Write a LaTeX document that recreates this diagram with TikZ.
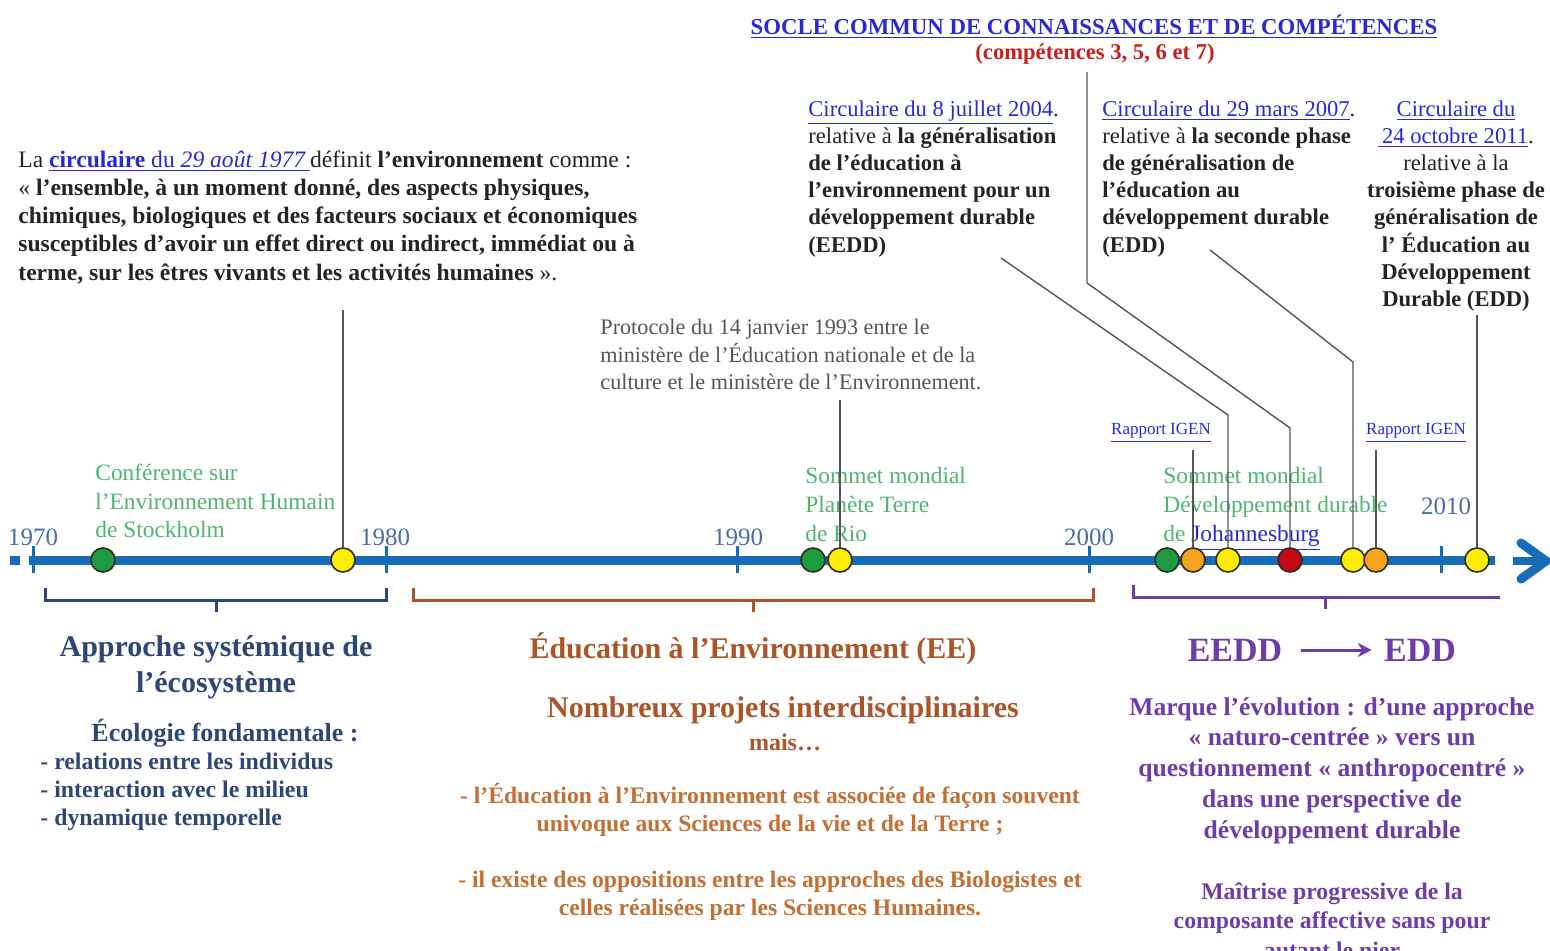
\documentclass[tikz,border=0pt]{standalone}
\usepackage{fontspec}
\setmainfont{Liberation Serif}
\usetikzlibrary{arrows.meta}
\definecolor{tlblue}{RGB}{22,108,184}
\definecolor{yrblue}{RGB}{70,110,170}
\definecolor{evgreen}{RGB}{80,180,110}
\definecolor{lnkblue}{RGB}{40,40,215}
\definecolor{socred}{RGB}{200,30,30}
\definecolor{liengray}{RGB}{85,85,85}
\definecolor{evedge}{RGB}{45,45,25}
\definecolor{fgreen}{RGB}{30,155,65}
\definecolor{fyellow}{RGB}{255,238,0}
\definecolor{forange}{RGB}{245,162,30}
\definecolor{fred}{RGB}{195,10,20}
\definecolor{sysblue}{RGB}{45,70,120}
\definecolor{eebrown}{RGB}{170,85,40}
\definecolor{eelight}{RGB}{195,110,50}
\definecolor{eddpurple}{RGB}{110,60,170}
\definecolor{txtdark}{RGB}{35,35,35}
\newcommand{\lnk}[1]{\textcolor{lnkblue}{\underline{#1}}}
\begin{document}
\begin{tikzpicture}[x=0.5pt,y=-0.5pt,
  tl/.style={draw=tlblue,line width=4.5pt},
  tickmark/.style={draw=tlblue,line width=1.5pt},
  annee/.style={text=yrblue,font=\fontsize{12.5}{14}\selectfont,inner sep=0pt},
  ev/.style={circle,draw=evedge,line width=0.8pt,minimum size=12pt,inner sep=0pt},
  lien/.style={draw=liengray,line width=0.7pt},
  vert/.style={text=evgreen,font=\fontsize{11.7}{14.2}\selectfont,align=left,anchor=north west,inner sep=0pt},
  circbox/.style={text=txtdark,font=\fontsize{11.3}{13.6}\selectfont,align=left,anchor=north west,inner sep=0pt},
  accol/.style={line width=1.5pt},
  titre/.style={font=\fontsize{15}{18}\selectfont\bfseries,align=center,inner sep=0pt},
  corps/.style={font=\fontsize{11.8}{14.2}\selectfont\bfseries,align=center,inner sep=0pt}]
\useasboundingbox (0,0) rectangle (1550,951);
\clip (0,0) rectangle (1550,951);

\node[inner sep=0pt,font=\fontsize{11.4}{13}\selectfont\bfseries] (socle) at (1094,27) {\lnk{SOCLE COMMUN DE CONNAISSANCES ET DE COMPÉTENCES}};
\node[inner sep=0pt,text=socred,font=\fontsize{11.3}{13}\selectfont\bfseries] (compet) at (1095,54) {(compétences 3, 5, 6 et 7)};

\node[circbox,font=\fontsize{11.8}{14.15}\selectfont] (def77) at (18,150) {La \lnk{\textbf{circulaire} du \textit{29 août 1977}\,}définit \textbf{l’environnement} comme :\\
« \textbf{l'ensemble, à un moment donné, des aspects physiques,}\\
\textbf{chimiques, biologiques et des facteurs sociaux et économiques}\\
\textbf{susceptibles d'avoir un effet direct ou indirect, immédiat ou à}\\
\textbf{terme, sur les êtres vivants et les activités humaines} ».};

\node[circbox] (c2004) at (808,100) {\lnk{Circulaire du 8 juillet 2004}.\\
relative à \textbf{la généralisation}\\
\textbf{de l'éducation à}\\
\textbf{l'environnement pour un}\\
\textbf{développement durable}\\
\textbf{(EEDD)}};
\node[circbox] (c2007) at (1102,100) {\lnk{Circulaire du 29 mars 2007}.\\
relative à \textbf{la seconde phase}\\
\textbf{de généralisation de}\\
\textbf{l'éducation au}\\
\textbf{développement durable}\\
\textbf{(EDD)}};
\node[circbox,align=center,anchor=north] (c2011) at (1456,100) {\lnk{Circulaire du}\\
\lnk{\,24 octobre 2011}.\\
relative à la\\
\textbf{troisième phase de}\\
\textbf{généralisation de}\\
\textbf{l’ Éducation au}\\
\textbf{Développement}\\
\textbf{Durable (EDD)}};

\node[circbox,text=liengray,font=\fontsize{11.1}{13.75}\selectfont] (proto) at (600,319) {Protocole du 14 janvier 1993 entre le\\
ministère de l'Éducation nationale et de la\\
culture et le ministère de l'Environnement.};

\node[vert] (stock) at (95,464) {Conférence sur\\ l’Environnement Humain\\ de Stockholm};
\node[vert,font=\fontsize{11.7}{14.5}\selectfont] (rio) at (805,467) {Sommet mondial\\ Planète Terre\\ de Rio};
\node[vert,font=\fontsize{11.7}{14.5}\selectfont] (joburg) at (1163,467) {Sommet mondial\\ Développement durable\\ de \lnk{Johannesburg}};
\node[inner sep=0pt,font=\fontsize{8.5}{10}\selectfont] (igen1) at (1161,433) {\lnk{Rapport IGEN}};
\node[inner sep=0pt,font=\fontsize{8.5}{10}\selectfont] (igen2) at (1416,433) {\lnk{Rapport IGEN}};

\draw[tl] (10,560) -- (20,560);
\draw[tl] (29,560) -- (1495,560);
\draw[tl,line width=4pt] (1513,561) -- (1542,561);
\draw[tl,line width=4.5pt,line cap=round] (1521,543) -- (1546,561) -- (1521,579);
\foreach \xx in {33,386,737,1089,1441}
  \draw[tickmark] (\xx,546) -- (\xx,573);
\node[annee] (a1970) at (33,537) {1970};
\node[annee] (a1980) at (385,537) {1980};
\node[annee] (a1990) at (738,537) {1990};
\node[annee] (a2000) at (1089,537) {2000};
\node[annee] (a2010) at (1446,506) {2010};

\node[ev,fill=fgreen] (e72) at (103,560) {};
\node[ev,fill=fyellow] (e77) at (343,560) {};
\node[ev,fill=fgreen] (e92) at (813,560) {};
\node[ev,fill=fyellow] (e93) at (840,560) {};
\node[ev,fill=fgreen] (e02) at (1167,560) {};
\node[ev,fill=forange] (e03) at (1193,560) {};
\node[ev,fill=fyellow] (e04) at (1228,560) {};
\node[ev,fill=fred] (e06) at (1290,560) {};
\node[ev,fill=fyellow] (e07) at (1353,560) {};
\node[ev,fill=forange] (e08) at (1376,560) {};
\node[ev,fill=fyellow] (e11) at (1477,560) {};

\coordinate (k77) at (343,310);
\coordinate (k93) at (840,400);
\coordinate (k04a) at (1001,258);
\coordinate (k04b) at (1228,415);
\coordinate (k06a) at (1087,72);
\coordinate (k06b) at (1087,283);
\coordinate (k06c) at (1290,428);
\coordinate (k07a) at (1210,250);
\coordinate (k07b) at (1353,362);
\coordinate (k03) at (1193,450);
\coordinate (k08) at (1376,450);
\coordinate (k11) at (1477,315);
\draw[lien] (k77) -- (e77);
\draw[lien] (k93) -- (e93);
\draw[lien] (k04a) -- (k04b) -- (e04);
\draw[lien] (k06a) -- (k06b) -- (k06c) -- (e06);
\draw[lien] (k07a) -- (k07b) -- (e07);
\draw[lien] (k03) -- (e03);
\draw[lien] (k08) -- (e08);
\draw[lien] (k11) -- (e11);

\draw[accol,draw=sysblue] (45,588) -- (45,600) -- (386,600) -- (386,588) (216,600) -- (216,612);
\draw[accol,draw=eebrown] (413,588) -- (413,600) -- (1093,600) -- (1093,588) (753,600) -- (753,612);
\draw[accol,draw=eddpurple] (1133,585) -- (1133,597) -- (1500,597) (1325,597) -- (1325,609);

\node[titre,text=sysblue] (systeme) at (216,667) {Approche systémique de\\ l’écosystème};
\node[inner sep=0pt,text=sysblue,font=\fontsize{13}{15}\selectfont\bfseries] (ecolo) at (225,733) {Écologie fondamentale :};
\node[circbox,text=sysblue,font=\fontsize{11.9}{14}\selectfont\bfseries] (liste) at (40,753) {- relations entre les individus\\ - interaction avec le milieu\\ - dynamique temporelle};

\node[titre,text=eebrown] (ee) at (753,649) {Éducation à l’Environnement (EE)};
\node[inner sep=0pt,text=eebrown,font=\fontsize{15}{17}\selectfont\bfseries] (projets) at (783,710) {Nombreux projets interdisciplinaires};
\node[inner sep=0pt,text=eebrown,font=\fontsize{12}{14}\selectfont\bfseries] (mais) at (785,742) {mais…};
\node[corps,text=eelight] (svt) at (770,810) {- l’Éducation à l’Environnement est associée de façon souvent\\ univoque aux Sciences de la vie et de la Terre ;};
\node[corps,text=eelight] (bio) at (770,896) {- il existe des oppositions entre les approches des Biologistes et\\ celles réalisées par les Sciences Humaines.};

\node[inner sep=0pt,text=eddpurple,font=\fontsize{17}{19}\selectfont\bfseries] (eedd) at (1235,650) {EEDD};
\node[inner sep=0pt,text=eddpurple,font=\fontsize{17}{19}\selectfont\bfseries] (edd) at (1420,650) {EDD};
\draw[draw=eddpurple,line width=1.5pt,-{Stealth[length=7pt,width=7pt]},shorten <=9pt,shorten >=6pt] (eedd) -- (edd);
\node[corps,text=eddpurple,font=\fontsize{12.8}{15.4}\selectfont\bfseries,anchor=north] (marque) at (1332,697) {Marque l'évolution : d'une approche\\ « naturo-centrée » vers un\\ questionnement « anthropocentré »\\ dans une perspective de\\ développement durable};
\node[corps,text=eddpurple,font=\fontsize{11.9}{14.8}\selectfont\bfseries,anchor=north] (maitrise) at (1332,882) {Maîtrise progressive de la\\ composante affective sans pour\\ autant le nier};
\end{tikzpicture}
\end{document}
